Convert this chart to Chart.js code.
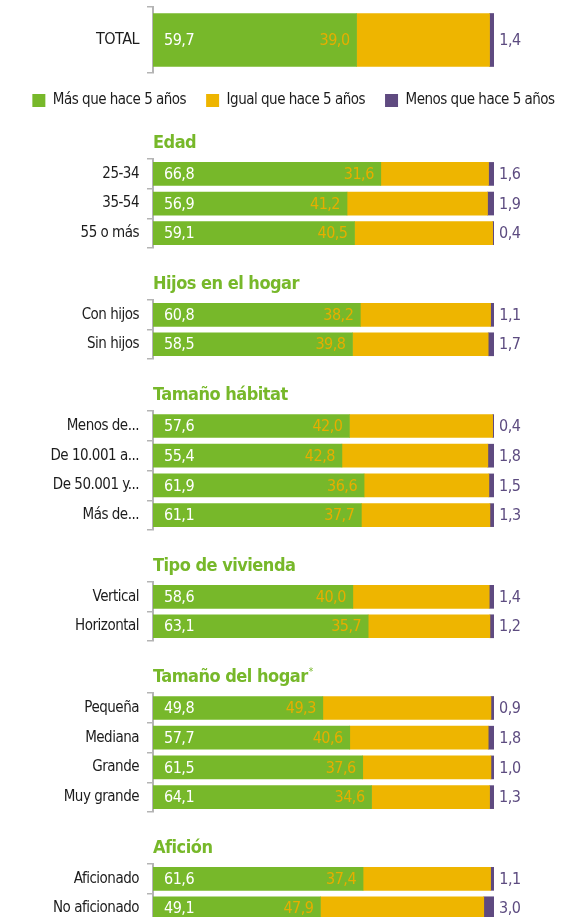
<!DOCTYPE html>
<html>
<head>
<meta charset="utf-8">
<script src="https://cdn.jsdelivr.net/npm/chart.js@4/dist/chart.umd.min.js"></script>
<style>
  body { margin: 0; background: #fff; }
  .box { position: relative; width: 587px; }
</style>
</head>
<body>
<div id="wrap"></div>
<script>
// categories, in page order
var categories = ['TOTAL', '25-34', '35-54', '55 o más', 'Con hijos', 'Sin hijos',
  'Menos de...', 'De 10.001 a...', 'De 50.001 y...', 'Más de...', 'Vertical', 'Horizontal',
  'Pequeña', 'Mediana', 'Grande', 'Muy grande', 'Aficionado', 'No aficionado'];
// group headers and how many rows each one has
var groupTitles = ['', 'Edad', 'Hijos en el hogar', 'Tamaño hábitat', 'Tipo de vivienda', 'Tamaño del hogar', 'Afición'];
var groupNotes = ['', '', '', '', '', '*', ''];
var groupSizes = [1, 3, 2, 4, 2, 4, 2];
// series (%)
var seriesNames = ['Más que hace 5 años', 'Igual que hace 5 años', 'Menos que hace 5 años'];
var mas   = [59.7, 66.8, 56.9, 59.1, 60.8, 58.5, 57.6, 55.4, 61.9, 61.1, 58.6, 63.1, 49.8, 57.7, 61.5, 64.1, 61.6, 49.1];
var igual = [39.0, 31.6, 41.2, 40.5, 38.2, 39.8, 42.0, 42.8, 36.6, 37.7, 40.0, 35.7, 49.3, 40.6, 37.6, 34.6, 37.4, 47.9];
var menos = [1.4, 1.6, 1.9, 0.4, 1.1, 1.7, 0.4, 1.8, 1.5, 1.3, 1.4, 1.2, 0.9, 1.8, 1.0, 1.3, 1.1, 3.0];

var GREEN = '#77b82a', YELLOW = '#eeb500', PURPLE = '#5f4a80';
var YELLOW_TXT = '#e6ae00', PURPLE_TXT = '#5d4c80', GREY = '#b4b4b4';
var FONT = '"DejaVu Sans Condensed", "Liberation Sans", sans-serif';

function fmt(v) {
    return v.toFixed(1).replace('.', ',');
}

// no condensed face like the original, so squeeze the letters a bit
const tightText = {
    id: 'tightText',
    beforeUpdate: (chart) => { chart.ctx.letterSpacing = '-0.5px'; },
    beforeDraw: (chart) => { chart.ctx.letterSpacing = '-0.5px'; }
};

// numbers on and next to the bars
const valueLabels = {
    id: 'valueLabels',
    afterDatasetsDraw: (chart) => {
        const ctx = chart.ctx;
        ctx.save();
        ctx.font = '16px ' + FONT;
        ctx.textBaseline = 'middle';
        chart.data.datasets.forEach((ds, i) => {
            chart.getDatasetMeta(i).data.forEach((bar, j) => {
                const txt = fmt(ds.data[j]);
                const y = bar.y + 1;
                if (i === 0) {
                    ctx.fillStyle = '#ffffff';
                    ctx.textAlign = 'left';
                    ctx.fillText(txt, bar.base + 11, y);
                } else if (i === 1) {
                    ctx.fillStyle = YELLOW_TXT;
                    ctx.textAlign = 'right';
                    ctx.fillText(txt, bar.base - 7, y);
                } else {
                    ctx.fillStyle = PURPLE_TXT;
                    ctx.textAlign = 'left';
                    ctx.fillText(txt, bar.x + 5, y);
                }
            });
        });
        ctx.restore();
    }
};

// little superscript after a header
const headerNote = {
    id: 'headerNote',
    afterDraw: (chart) => {
        const note = chart.options.plugins.headerNote.text;
        if (!note) return;
        const t = chart.options.plugins.title;
        const ctx = chart.ctx;
        ctx.save();
        ctx.font = 'bold ' + t.font.size + 'px ' + FONT;
        const w = ctx.measureText(t.text).width;
        ctx.font = '10px ' + FONT;
        ctx.fillStyle = GREEN;
        ctx.textAlign = 'left';
        ctx.textBaseline = 'top';
        ctx.fillText(note, chart.chartArea.left + w + 1, chart.titleBlock.top + t.padding.top + 1);
        ctx.restore();
    }
};

function makeChart(g, start) {
    var n = groupSizes[g];
    var isTotal = g === 0;
    var div = document.createElement('div');
    div.className = 'box';
    div.style.height = (isTotal ? 118 : 51 + 30 * n) + 'px';
    if (g === 1) div.style.marginTop = '-10px';
    var canvas = document.createElement('canvas');
    div.appendChild(canvas);
    document.getElementById('wrap').appendChild(div);

    var labels = categories.slice(start, start + n);
    var data = [mas, igual, menos].map(function (s) { return s.slice(start, start + n); });
    var colors = [GREEN, YELLOW, PURPLE];

    return new Chart(canvas.getContext('2d'), {
        type: 'bar',
        data: {
            labels: labels,
            datasets: data.map(function (d, i) {
                return {
                    label: seriesNames[i],
                    data: d,
                    backgroundColor: colors[i],
                    borderWidth: 0,
                    barThickness: isTotal ? 53 : 23
                };
            })
        },
        options: {
            indexAxis: 'y',
            responsive: true,
            maintainAspectRatio: false,
            animation: false,
            layout: {
                padding: { top: isTotal ? 7 : 0, bottom: isTotal ? 0 : 1 }
            },
            scales: {
                x: { stacked: true, display: false, min: 0, max: 100 },
                y: {
                    stacked: true,
                    afterFit: (s) => { s.width = 153; s.paddingTop = 0; s.paddingBottom = 0; },
                    grid: { drawOnChartArea: false, tickLength: 6, color: GREY, lineWidth: 1.5 },
                    border: { display: true, color: GREY, width: 2 },
                    ticks: { color: '#1c1c1c', padding: 8, autoSkip: false, font: { family: FONT, size: isTotal ? 16 : 15 } }
                },
                // empty right column, keeps the bars at the reference width
                y2: {
                    position: 'right',
                    afterFit: (s) => { s.width = 93; s.paddingTop = 0; s.paddingBottom = 0; },
                    grid: { display: false },
                    border: { display: false },
                    ticks: { display: false }
                }
            },
            plugins: {
                legend: {
                    display: isTotal,
                    position: 'bottom',
                    labels: {
                        boxWidth: 13, boxHeight: 13, padding: 20, color: '#1c1c1c',
                        font: { family: FONT, size: 15 }
                    }
                },
                title: {
                    display: !isTotal,
                    text: groupTitles[g],
                    align: 'start',
                    fullSize: false,
                    color: GREEN,
                    padding: { top: 24.5, bottom: 5 },
                    font: { family: FONT, size: 18, weight: 'bold', lineHeight: 1.2 }
                },
                tooltip: { enabled: false },
                headerNote: { text: groupNotes[g] }
            }
        },
        plugins: [tightText, valueLabels, headerNote]
    });
}

var start = 0;
for (var g = 0; g < groupSizes.length; g++) {
    makeChart(g, start);
    start += groupSizes[g];
}
</script>
</body>
</html>
